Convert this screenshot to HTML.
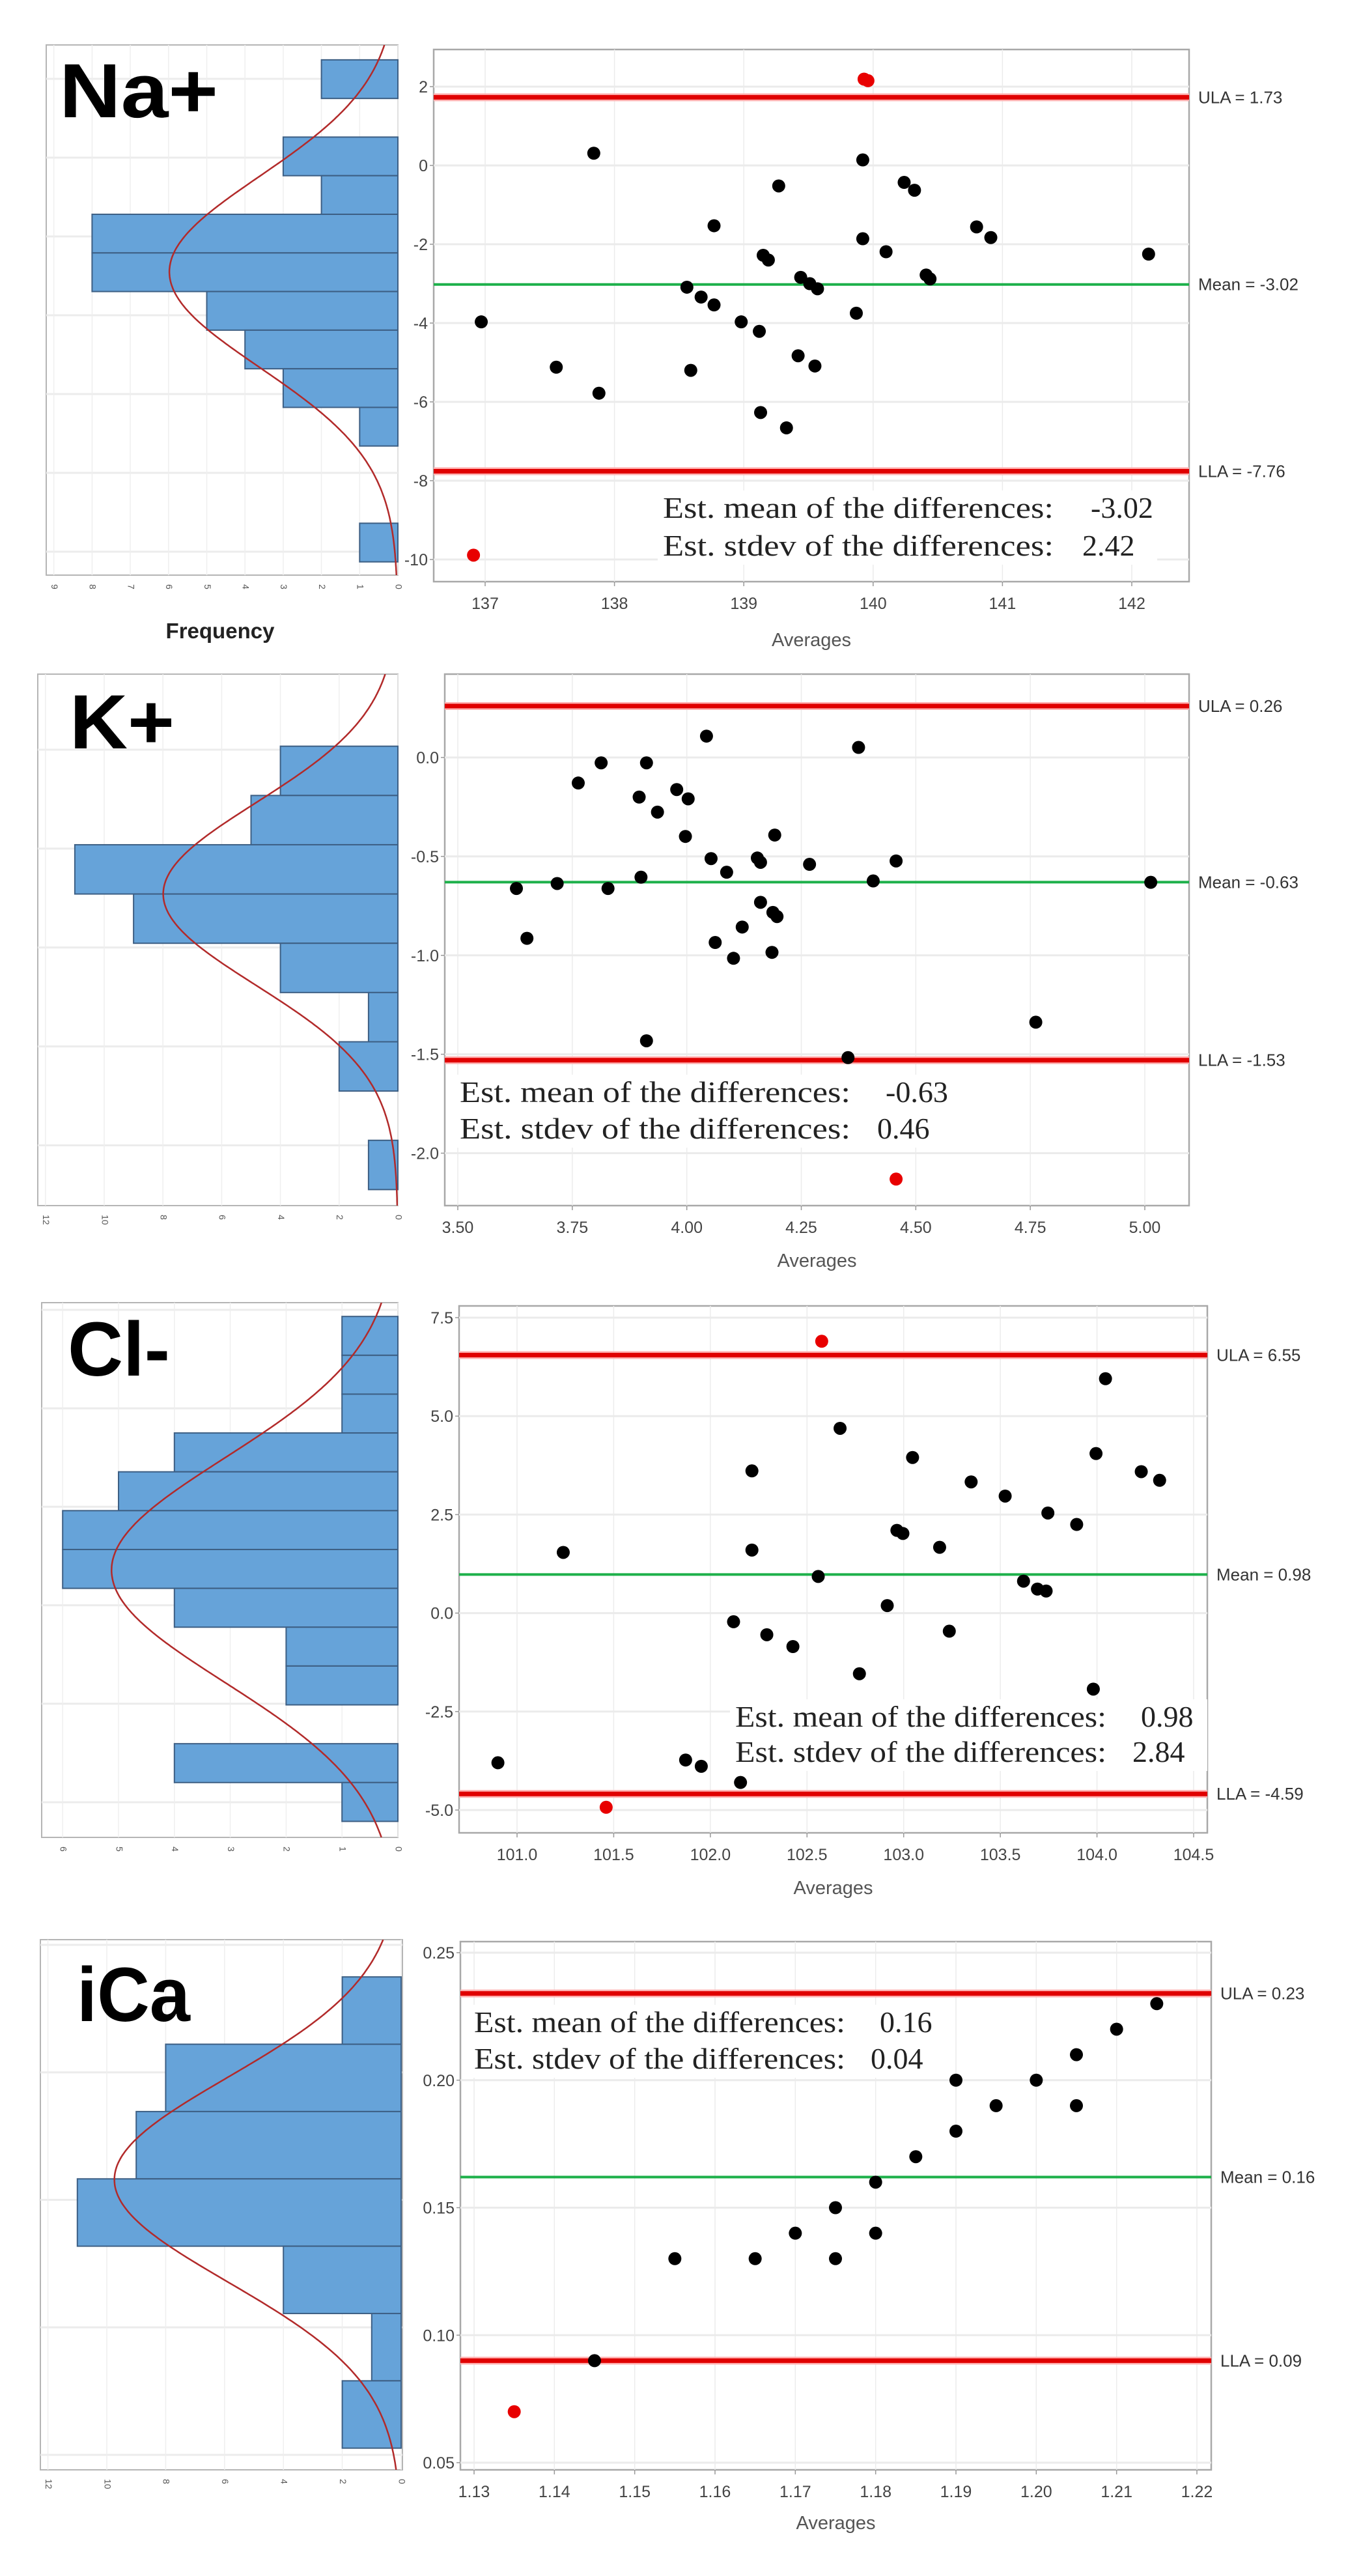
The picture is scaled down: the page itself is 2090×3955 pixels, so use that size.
<!DOCTYPE html>
<html><head><meta charset="utf-8">
<style>
html,body{margin:0;padding:0;background:#fff;}
svg{display:block;}
.tick{font-family:"Liberation Sans Narrow","Liberation Sans",sans-serif;font-size:25px;fill:#444;}
.htick{font-family:"Liberation Sans",sans-serif;font-size:14px;fill:#555;}
.lim{font-family:"Liberation Sans Narrow","Liberation Sans",sans-serif;font-size:26px;fill:#333;}
.est{font-family:"Liberation Serif",serif;font-size:46px;fill:#222;}
.ttl{font-family:"Liberation Sans",sans-serif;font-weight:bold;font-size:118px;fill:#000;}
.axt{font-family:"Liberation Sans",sans-serif;font-size:29px;fill:#555;}
</style></head>
<body>
<svg id="chart" xmlns="http://www.w3.org/2000/svg" width="2090" height="3955" viewBox="0 0 2090 3955"></svg>
<script>
// ---------- Na+ ----------
const naAvg = [137.84,139.92,139.27,140.24,140.32,138.77,140.80,140.91,139.92,140.10,142.13,139.15,139.19,139.44,140.41,140.44,139.51,139.57,138.56,138.67,138.77,139.87,136.97,138.98,139.12,139.42,139.55,137.55,138.59,137.88,139.13,139.33];
const naDiff = [0.31,0.14,-0.52,-0.43,-0.63,-1.53,-1.56,-1.83,-1.86,-2.19,-2.25,-2.28,-2.40,-2.84,-2.78,-2.88,-3.00,-3.13,-3.09,-3.34,-3.54,-3.75,-3.97,-3.97,-4.21,-4.83,-5.09,-5.12,-5.20,-5.78,-6.27,-6.66];
const naOutAvg = [139.93,139.96,136.91];
const naOutDiff = [2.19,2.15,-9.89];
const naLimits = [1.73,-3.02,-7.76];
const naEst = ["-3.02","2.42"];
const naHistCounts = [2,0,3,2,8,8,5,4,3,1,0,0,1];
const naHistStart = [2.68];
const naHistBin = [0.98];
const naCurve = [-2.7,2.42];
const naXTicks = [137,138,139,140,141,142];
const naYTicks = [2,0,-2,-4,-6,-8,-10];
const naCountTicks = [9,8,7,6,5,4,3,2,1,0];
// ---------- K+ ----------
const kAvg = [4.043,4.375,3.813,3.912,3.763,3.978,3.896,4.003,3.936,3.997,4.192,4.053,4.154,4.161,4.268,4.457,4.087,3.900,3.717,4.407,5.013,3.628,3.828,4.161,4.188,4.197,4.121,3.651,4.062,4.186,4.102,4.762,3.912,4.352];
const kDiff = [0.108,0.051,-0.027,-0.027,-0.129,-0.162,-0.200,-0.209,-0.276,-0.399,-0.392,-0.511,-0.508,-0.530,-0.540,-0.523,-0.580,-0.605,-0.637,-0.624,-0.631,-0.662,-0.662,-0.732,-0.783,-0.804,-0.857,-0.914,-0.935,-0.985,-1.015,-1.338,-1.432,-1.517];
const kOutAvg = [4.457];
const kOutDiff = [-2.131];
const kLimits = [0.26,-0.63,-1.53];
const kEst = ["-0.63","0.46"];
const kHistCounts = [4,5,11,9,4,1,2,0,1];
const kHistStart = [0.057];
const kHistBin = [0.249];
const kCurve = [-0.69,0.46];
const kXTicks = [3.5,3.75,4.0,4.25,4.5,4.75,5.0];
const kYTicks = [0,-0.5,-1,-1.5,-2];
const kCountTicks = [12,10,8,6,4,2,0];
// ---------- Cl- ----------
const clAvg = [104.044,102.671,103.046,103.995,102.215,104.229,104.324,103.349,103.525,103.746,103.895,102.965,102.996,103.186,101.239,102.215,102.558,103.620,103.692,103.737,102.915,102.120,103.236,102.292,102.427,102.771,103.981,100.901,101.872,101.953,102.156];
const clDiff = [5.95,4.69,3.95,4.05,3.61,3.59,3.37,3.33,2.97,2.54,2.25,2.10,2.02,1.67,1.54,1.60,0.93,0.81,0.61,0.56,0.19,-0.22,-0.46,-0.55,-0.85,-1.54,-1.93,-3.80,-3.73,-3.89,-4.30];
const clOutAvg = [102.576,101.461];
const clOutDiff = [6.90,-4.93];
const clLimits = [6.55,0.98,-4.59];
const clEst = ["0.98","2.84"];
const clHistCounts = [1,1,1,4,5,6,6,4,2,2,0,4,1];
const clHistStart = [7.53];
const clHistBin = [0.986];
const clCurve = [1.09,2.84];
const clXTicks = [101,101.5,102,102.5,103,103.5,104,104.5];
const clYTicks = [7.5,5,2.5,0,-2.5,-5];
const clCountTicks = [6,5,4,3,2,1,0];
// ---------- iCa ----------
const caAvg = [1.215,1.210,1.205,1.190,1.200,1.195,1.205,1.190,1.185,1.180,1.175,1.170,1.180,1.155,1.165,1.175,1.145];
const caDiff = [0.23,0.22,0.21,0.20,0.20,0.19,0.19,0.18,0.17,0.16,0.15,0.14,0.14,0.13,0.13,0.13,0.09];
const caOutAvg = [1.135];
const caOutDiff = [0.07];
const caLimits = [0.234,0.162,0.090];
const caEst = ["0.16","0.04"];
const caHistCounts = [2,8,9,11,4,1,2];
const caHistStart = [0.2405];
const caHistBin = [0.0264];
const caCurve = [0.161,0.04];
const caXTicks = [1.13,1.14,1.15,1.16,1.17,1.18,1.19,1.20,1.21,1.22];
const caYTicks = [0.25,0.20,0.15,0.10,0.05];
const caCountTicks = [12,10,8,6,4,2,0];
const caLimitLabels = ["0.23","0.16","0.09"];

const NS = 'http://www.w3.org/2000/svg';
const svg = document.getElementById('chart');
function mk(tag, parent, attrs){const e=document.createElementNS(NS,tag);for(const k in attrs)e.setAttribute(k,attrs[k]);parent.appendChild(e);return e;}
function lin(d0,r0,d1,r1){return v=>r0+(v-d0)*(r1-r0)/(d1-d0);}

function panel(c){
  const g = mk('g', svg, {});
  
  
  const xs = lin(c.xa[0],c.xa[1],c.xb[0],c.xb[1]);
  const ys = lin(c.ya[0],c.ya[1],c.yb[0],c.yb[1]);
  const hs = lin(0,c.h.zero,1,c.h.zero-c.h.unit);
  // ---- histogram ----
  const hg = mk('g', g, {});
  
  
  const hb = mk('rect', hg, {x:c.h.x0,y:c.h.y0,width:c.h.x1-c.h.x0,height:c.h.y1-c.h.y0,fill:'#fff',stroke:'#b5b5b5','stroke-width':2});
  
  
  c.yTicks.forEach(t=>{
    const l = mk('line', hg, {x1:c.h.x0,x2:c.h.x1,y1:ys(t)-12,y2:ys(t)-12,stroke:'#ececec','stroke-width':3});
    
    
  });
  c.countTicks.forEach(t=>{
    const x = hs(t);
    const l = mk('line', hg, {x1:x,x2:x,y1:c.h.y0,y2:c.h.y1,stroke:'#efefef','stroke-width':1.5});
    
    
    const tx = mk('text', hg, {x:x,y:c.h.y1+14,class:'htick',transform:`rotate(90 ${x} ${c.h.y1+14})`,'dominant-baseline':'middle'});
    tx.textContent = t;
    
    
  });
  const counts=c.hist, st=c.hstart[0], bw=c.hbin[0];
  let N=0; counts.forEach(v=>N+=v);
  counts.forEach((n,i)=>{
    if(n<=0) return;
    const yt = ys(st-i*bw), yb = ys(st-(i+1)*bw);
    const r = mk('rect', hg, {x:hs(n),y:yt,width:hs(0)-hs(n),height:yb-yt,fill:'#66a3d9',stroke:'#3d5f84','stroke-width':2});
    
    
  });
  const mu=c.curve[0], sd=c.curve[1];
  const k = N*bw/(sd*Math.sqrt(2*Math.PI));
  let d='';
  const vTop = ys.length?0:0;
  const yTopVal = c.ya[0]+(c.h.y0-c.ya[1])*(c.yb[0]-c.ya[0])/(c.yb[1]-c.ya[1]);
  const yBotVal = c.ya[0]+(c.h.y1-c.ya[1])*(c.yb[0]-c.ya[0])/(c.yb[1]-c.ya[1]);
  for(let i=0;i<=300;i++){
    const v = yTopVal+(yBotVal-yTopVal)*i/300;
    const f = k*Math.exp(-0.5*((v-mu)/sd)**2);
    d += (i?'L':'M')+hs(f).toFixed(1)+','+ys(v).toFixed(1);
  }
  const cp = mk('clipPath', hg, {id:c.id+'-clip'});
  mk('rect', cp, {x:c.h.x0,y:c.h.y0,width:c.h.x1-c.h.x0,height:c.h.y1-c.h.y0});
  const curve = mk('path', hg, {d:d,fill:'none',stroke:'#b22a2a','stroke-width':2.5,'clip-path':`url(#${c.id}-clip)`});
  
  
  const ttl = mk('text', hg, {x:c.title.x,y:c.title.y,class:'ttl',textLength:c.title.w,lengthAdjust:'spacingAndGlyphs'});
  ttl.textContent = c.title.t;
  
  
  // ---- scatter ----
  const sg = mk('g', g, {});
  
  
  const s=c.s;
  const sb = mk('rect', sg, {x:s.x0,y:s.y0,width:s.x1-s.x0,height:s.y1-s.y0,fill:'#fff',stroke:'#a8a8a8','stroke-width':2.5});
  
  
  c.xTicks.forEach(t=>{
    const x=xs(t);
    const l = mk('line', sg, {x1:x,x2:x,y1:s.y0,y2:s.y1,stroke:'#ececec','stroke-width':1.5});
    
    
    const tk = mk('line', sg, {x1:x,x2:x,y1:s.y1,y2:s.y1+7,stroke:'#999','stroke-width':1.5});
    
    
    const tx = mk('text', sg, {x:x,y:s.y1+42,class:'tick','text-anchor':'middle'});
    tx.textContent = t.toFixed(c.xdec);
    
    
  });
  c.yTicks.forEach(t=>{
    const y=ys(t);
    const l = mk('line', sg, {x1:s.x0,x2:s.x1,y1:y,y2:y,stroke:'#ebebeb','stroke-width':3});
    
    
    const tk = mk('line', sg, {x1:s.x0-6,x2:s.x0,y1:y,y2:y,stroke:'#999','stroke-width':1.5});
    
    
    const tx = mk('text', sg, {x:s.x0-9,y:y+9,class:'tick','text-anchor':'end'});
    tx.textContent = t.toFixed(c.ydec);
    
    
  });
  // est box (white behind)
  const eb = mk('rect', sg, {x:c.est.x-8,y:c.est.y1-42,width:c.est.vx+110-c.est.x,height:c.est.y2-c.est.y1+56,fill:'#fff'});
  
  
  const names=['ULA','Mean','LLA'];
  c.limits.forEach((v,i)=>{
    const y=ys(v);
    if(i!==1){
      const gl = mk('line', sg, {x1:s.x0,x2:s.x1,y1:y,y2:y,stroke:'#ffb0b0','stroke-width':12});
      
      
    }
    const l = mk('line', sg, {x1:s.x0,x2:s.x1,y1:y,y2:y,stroke:i===1?'#1db04a':'#e00000','stroke-width':i===1?4:7});
    
    
    const tx = mk('text', sg, {x:s.x1+14,y:y+9,class:'lim'});
    tx.textContent = names[i]+' = '+(c.limLabels?c.limLabels[i]:v.toFixed(2));
    
    
  });
  c.avg.forEach((a,i)=>{
    const p = mk('circle', sg, {cx:xs(a),cy:ys(c.diff[i]),r:10,fill:'#000'});
    
    
  });
  c.oavg.forEach((a,i)=>{
    const p = mk('circle', sg, {cx:xs(a),cy:ys(c.odiff[i]),r:10,fill:'#e80000'});
    
    
  });
  const e1 = mk('text', sg, {x:c.est.x,y:c.est.y1,class:'est',textLength:c.est.w,lengthAdjust:'spacingAndGlyphs'});
  e1.textContent = 'Est. mean of the differences:';
  
  
  const e1v = mk('text', sg, {x:c.est.vx,y:c.est.y1,class:'est'});
  e1v.textContent = c.estv[0];
  
  
  const e2 = mk('text', sg, {x:c.est.x,y:c.est.y2,class:'est',textLength:c.est.w,lengthAdjust:'spacingAndGlyphs'});
  e2.textContent = 'Est. stdev of the differences:';
  
  
  const e2v = mk('text', sg, {x:c.est.vx2,y:c.est.y2,class:'est'});
  e2v.textContent = c.estv[1];
  
  
  const ax = mk('text', sg, {x:(s.x0+s.x1)/2,y:c.axY,class:'axt','text-anchor':'middle'});
  ax.textContent = 'Averages';
  
  
}

panel({id:'na',xa:[137,745],xb:[142,1738],ya:[2,133],yb:[-10,859],
  s:{x0:666,x1:1826,y0:76,y1:893},h:{x0:71,x1:611,y0:69,y1:883,zero:611,unit:58.7},
  xTicks:naXTicks,yTicks:naYTicks,countTicks:naCountTicks,xdec:0,ydec:0,
  hist:naHistCounts,hstart:naHistStart,hbin:naHistBin,curve:naCurve,
  avg:naAvg,diff:naDiff,oavg:naOutAvg,odiff:naOutDiff,limits:naLimits,estv:naEst,
  est:{x:1018,y1:795,y2:853,w:600,vx:1675,vx2:1662},title:{t:'Na+',x:91,y:180,w:244},axY:992});
const fq = mk('text', svg, {x:338,y:980,'text-anchor':'middle','font-family':'Liberation Sans, sans-serif','font-weight':'bold','font-size':'33','fill':'#222'});
fq.textContent='Frequency';



panel({id:'k',xa:[3.5,703],xb:[5.0,1758],ya:[0,1163],yb:[-2,1770.5],
  s:{x0:683,x1:1826,y0:1035,y1:1851},h:{x0:58,x1:611,y0:1035,y1:1851,zero:611,unit:45.1},
  xTicks:kXTicks,yTicks:kYTicks,countTicks:kCountTicks,xdec:2,ydec:1,
  hist:kHistCounts,hstart:kHistStart,hbin:kHistBin,curve:kCurve,
  avg:kAvg,diff:kDiff,oavg:kOutAvg,odiff:kOutDiff,limits:kLimits,estv:kEst,
  est:{x:706,y1:1692,y2:1748,w:600,vx:1360,vx2:1347},title:{t:'K+',x:107,y:1149,w:161},axY:1945});

panel({id:'cl',xa:[101,794],xb:[104.5,1833],ya:[7.5,2023],yb:[-5,2779],
  s:{x0:705,x1:1854,y0:2005,y1:2814},h:{x0:64,x1:611,y0:2000,y1:2821,zero:611,unit:85.8},
  xTicks:clXTicks,yTicks:clYTicks,countTicks:clCountTicks,xdec:1,ydec:1,
  hist:clHistCounts,hstart:clHistStart,hbin:clHistBin,curve:clCurve,
  avg:clAvg,diff:clDiff,oavg:clOutAvg,odiff:clOutDiff,limits:clLimits,estv:clEst,
  est:{x:1129,y1:2651,y2:2705,w:570,vx:1752,vx2:1739},title:{t:'Cl-',x:104,y:2112,w:157},axY:2908});

panel({id:'ica',xa:[1.13,728],xb:[1.22,1838],ya:[0.25,2998],yb:[0.05,3781],
  s:{x0:707,x1:1860,y0:2981,y1:3792},h:{x0:62,x1:618,y0:2978,y1:3792,zero:616,unit:45.2},
  xTicks:caXTicks,yTicks:caYTicks,countTicks:caCountTicks,xdec:2,ydec:2,
  hist:caHistCounts,hstart:caHistStart,hbin:caHistBin,curve:caCurve,
  avg:caAvg,diff:caDiff,oavg:caOutAvg,odiff:caOutDiff,limits:caLimits,estv:caEst,limLabels:caLimitLabels,
  est:{x:728,y1:3120,y2:3176,w:570,vx:1351,vx2:1337},title:{t:'iCa',x:118,y:3103,w:174},axY:3883});
</script>
</body></html>
